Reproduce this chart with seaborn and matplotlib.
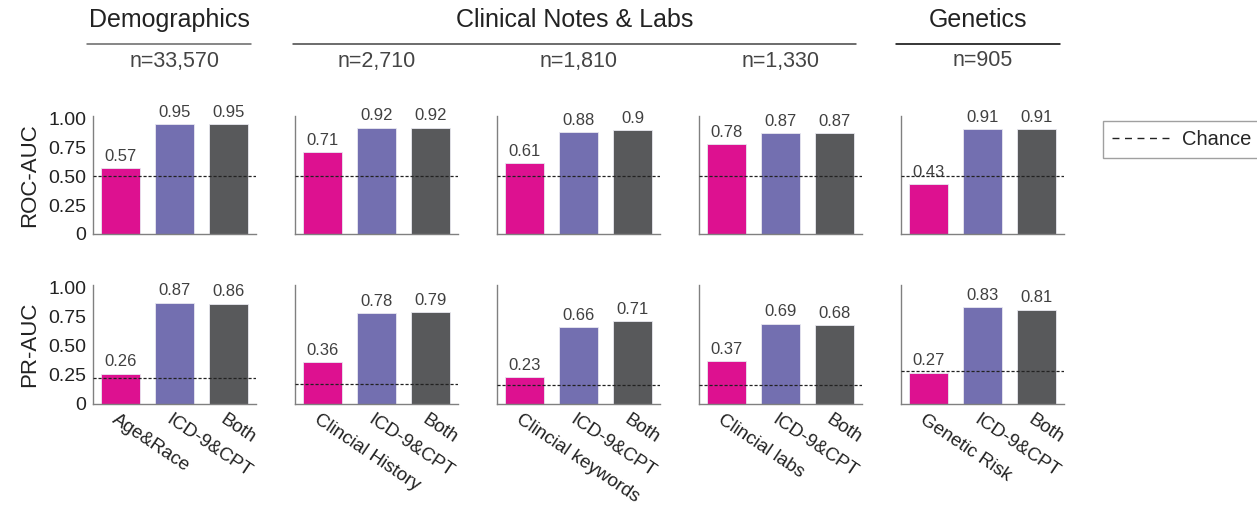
import matplotlib
matplotlib.use("Agg")
import matplotlib.pyplot as plt
import matplotlib.transforms as mtrans
import seaborn as sns
import pandas as pd
from matplotlib.lines import Line2D

sns.set_theme(style="white")
plt.rcParams['font.family'] = ['Liberation Sans', 'DejaVu Sans']

groups = ["Demographics", "Clinical Notes & Labs", "Genetics"]
sample_sizes = ["n=33,570", "n=2,710", "n=1,810", "n=1,330", "n=905"]
first_feature = ["Age&Race", "Clincial History", "Clincial keywords", "Clincial labs", "Genetic Risk"]
models = ["Feature", "ICD-9&CPT", "Both"]
roc_auc = [[0.57, 0.95, 0.95], [0.71, 0.92, 0.92], [0.61, 0.88, 0.90],
           [0.78, 0.87, 0.87], [0.43, 0.91, 0.91]]
pr_auc = [[0.26, 0.87, 0.86], [0.36, 0.78, 0.79], [0.23, 0.66, 0.71],
          [0.37, 0.69, 0.68], [0.27, 0.83, 0.81]]
roc_chance = [0.5, 0.5, 0.5, 0.5, 0.5]
pr_chance = [0.22, 0.17, 0.16, 0.16, 0.28]
colors = ["#DD1190", "#736FB0", "#58595B"]

fig = plt.figure(figsize=(12.57, 5.05), dpi=100)
lefts = [93, 295, 497, 699, 901]
W, H = 1257, 505
pw = 163
rows = [(116, 234), (285, 404)]
spine_c = "#808080"
txt_c = "#404040"

for r, (metric, chance, ylabel) in enumerate([(roc_auc, roc_chance, "ROC-AUC"),
                                               (pr_auc, pr_chance, "PR-AUC")]):
    top, bot = rows[r]
    for c in range(5):
        ax = fig.add_axes([lefts[c] / W, (H - bot) / H, pw / W, (bot - top) / H])
        labels = [first_feature[c], models[1], models[2]]
        df = pd.DataFrame({"label": labels, "value": metric[c]})
        sns.barplot(data=df, x="label", y="value", hue="label", palette=colors,
                    width=0.72, legend=False, ax=ax, saturation=1,
                    edgecolor="#e8e8f0", linewidth=0.6)
        for cont in ax.containers:
            ax.bar_label(cont, labels=[f"{v:g}" for v in cont.datavalues], padding=3,
                         fontsize=12, color=txt_c)
        ax.axhline(chance[c], color="#222222", lw=0.9, ls=(0, (2.5, 1.5)), zorder=5)
        ax.set_ylim(0, 1.02)
        ax.set_xlim(-0.5, 2.5)
        ax.set_xlabel("")
        ax.set_ylabel("")
        for s in ["top", "right"]:
            ax.spines[s].set_visible(False)
        for s in ["left", "bottom"]:
            ax.spines[s].set_color(spine_c)
            ax.spines[s].set_linewidth(1.0)
        ax.set_yticks([0, 0.25, 0.5, 0.75, 1.0])
        if c == 0:
            ax.set_yticklabels(["0", "0.25", "0.50", "0.75", "1.00"], fontsize=14, color="#222222")
            ax.tick_params(axis="y", length=3, color=spine_c, pad=2)
            ax.set_ylabel(ylabel, fontsize=16, color="#222222", labelpad=6)
        else:
            ax.set_yticklabels([])
            ax.tick_params(axis="y", length=0)
        ax.tick_params(axis="x", length=0)
        if r == 1:
            ax.set_xticks([0, 1, 2])
            ax.set_xticklabels(labels, rotation=-34, ha="left", va="top",
                               rotation_mode="anchor", fontsize=13.5, color="#222222")
            ax.tick_params(axis="x", pad=5)
            offset = mtrans.ScaledTranslation(-2 / 100, 0, fig.dpi_scale_trans)
            for t in ax.get_xticklabels():
                t.set_transform(t.get_transform() + offset)
        else:
            ax.set_xticks([])

def fx(px):
    return px / W
def fy(py):
    return 1 - py / H

header_spans = [(87, 251), (293, 856), (896, 1060)]
header_colors = ["#666666", "#444444", "#000000"]
for g, (x0, x1), lc in zip(groups, header_spans, header_colors):
    fig.text(fx((x0 + x1) / 2), fy(20), g, ha="center", va="center", fontsize=18, color="#222222")
    fig.add_artist(Line2D([fx(x0), fx(x1)], [fy(44), fy(44)], color=lc, lw=1.1))
for c in range(5):
    fig.text(fx(lefts[c] + pw / 2), fy(61), sample_sizes[c], ha="center", va="center",
             fontsize=15.5, color="#444444")

handle = Line2D([], [], color="#222222", lw=1.0, ls=(0, (5, 4)))
fig.legend([handle], ["Chance"], loc="upper left", bbox_to_anchor=(fx(1103), fy(121)),
           fontsize=14.5, frameon=True, fancybox=False, edgecolor="#888888",
           handlelength=3.0, handletextpad=0.45, borderpad=0.45, borderaxespad=0)

fig.savefig("out.png", dpi=100)
